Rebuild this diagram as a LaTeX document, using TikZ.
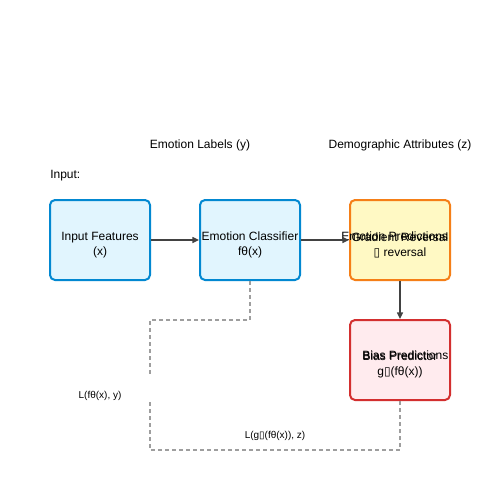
\documentclass[tikz,border=0pt]{standalone}
\usepackage{fontspec}
\setmainfont{Liberation Sans}
\newfontfamily\symfont{DejaVu Sans}
\usetikzlibrary{arrows.meta}
\definecolor{bluefill}{HTML}{E1F5FE}
\definecolor{blueline}{HTML}{0288D1}
\definecolor{yelfill}{HTML}{FFF9C4}
\definecolor{yelline}{HTML}{F57F17}
\definecolor{redfill}{HTML}{FFEBEE}
\definecolor{redline}{HTML}{D32F2F}
\definecolor{arrowgray}{HTML}{424242}
\definecolor{dashgray}{HTML}{9E9E9E}
\newcommand{\mainfs}{\fontsize{9}{11.25}\selectfont}
\newcommand{\smallfs}{\fontsize{7.5}{9}\selectfont}
\newcommand{\tofu}{{\symfont\char"25AF}}
\newcommand{\toppad}{\rule{0pt}{14pt}}
\begin{document}
\begin{tikzpicture}[x=0.75pt,y=-0.75pt,
  box/.style={draw, line width=1.5pt, rounded corners=3.75pt, minimum width=75pt,
    minimum height=60pt, inner sep=0pt, align=center, font=\mainfs},
  bluebox/.style={box, draw=blueline, fill=bluefill},
  yelbox/.style={box, draw=yelline, fill=yelfill},
  redbox/.style={box, draw=redline, fill=redfill},
  flow/.style={draw=arrowgray, line width=1pt, -{Triangle[length=5pt,width=4.5pt]}},
  lossline/.style={draw=dashgray, line width=1.1pt, dash pattern=on 3pt off 2.25pt},
  lbl/.style={font=\mainfs, inner sep=0pt},
  slbl/.style={font=\smallfs, inner sep=0pt}]
\useasboundingbox (0,0) rectangle (500,500);
\fill[white] (0,0) rectangle (500,500);

\node[lbl] (elab) at (200,145) {Emotion Labels (y)};
\node[lbl] (dlab) at (400,145) {Demographic Attributes (z)};
\node[lbl, anchor=west] (inlab) at (50,176) {Input:};

\node[bluebox] (in) at (100,240) {\toppad Input Features\\(x)};
\node[bluebox] (cls) at (250,240) {\toppad Emotion Classifier\\fθ(x)};
\node[yelbox] (grl) at (400,240) {\toppad Gradient Reversal\\\tofu\ reversal};
\node[redbox] (bias) at (400,360) {\toppad Bias Predictor\\g\tofu(fθ(x))};

\node[lbl, anchor=west] (epred) at (341,236) {Emotion Predictions};
\node[lbl, anchor=west] (bpred) at (362,355) {Bias Predictions};

\draw[flow] (in) -- (cls);
\draw[flow] (cls) -- (grl);
\draw[flow] (grl) -- (bias);

\coordinate (gapTop) at (150,376);
\coordinate (gapBot) at (150,402);
\draw[lossline] (cls.south) -- (250,320) -- (150,320) -- (gapTop);
\draw[lossline] (gapBot) -- (150,450) -- (400,450) -- (bias.south);

\node[slbl] (l1) at (100,396) {L(fθ(x), y)};
\node[slbl] (l2) at (275,436) {L(g\tofu(fθ(x)), z)};
\end{tikzpicture}
\end{document}
